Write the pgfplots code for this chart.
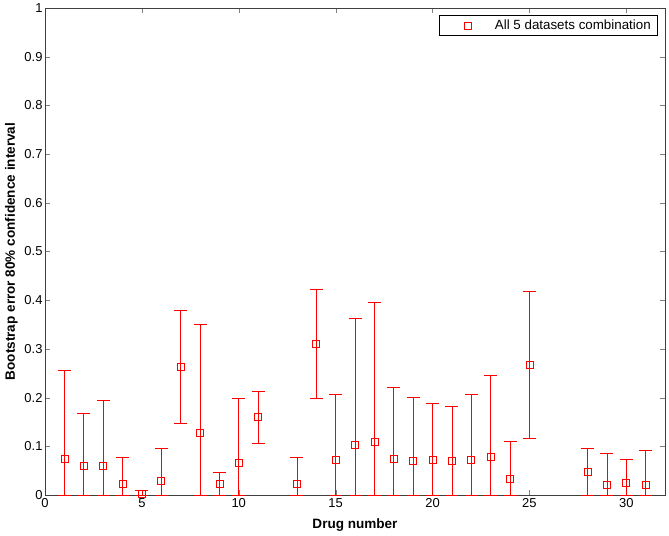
\documentclass[border=0pt]{standalone}
\usepackage{pgfplots}
\pgfplotsset{compat=1.18}
\usepackage{pgfplotstable}
\usepackage{fontspec}
\setmainfont{Liberation Sans}
\pgfplotstableread{
x y ep em
1 0.075 0.181 0.075
2 0.060 0.108 0.060
3 0.060 0.135 0.060
4 0.022 0.055 0.022
5 0.002 0.008 0.002
6 0.030 0.066 0.030
7 0.263 0.117 0.116
8 0.128 0.222 0.128
9 0.023 0.024 0.023
10 0.066 0.132 0.066
11 0.160 0.052 0.053
13 0.024 0.053 0.024
14 0.310 0.112 0.112
15 0.073 0.134 0.073
16 0.103 0.260 0.103
17 0.110 0.286 0.110
18 0.074 0.148 0.074
19 0.071 0.129 0.071
20 0.073 0.116 0.073
21 0.071 0.112 0.071
22 0.073 0.134 0.073
23 0.079 0.166 0.079
24 0.033 0.077 0.033
25 0.267 0.152 0.151
28 0.048 0.047 0.048
29 0.020 0.065 0.020
30 0.025 0.049 0.025
31 0.020 0.071 0.020
}\datatable
\begin{document}
\begin{tikzpicture}
\begin{axis}[
  scale only axis,
  width=620bp, height=487bp,
  xmin=0, xmax=32, ymin=0, ymax=1,
  xtick={0,5,...,30},
  ytick={0,0.1,...,1},
  yticklabels={0,0.1,0.2,0.3,0.4,0.5,0.6,0.7,0.8,0.9,1},
  tick align=inside,
  tick pos=both,
  major tick length=5bp,
  /pgf/number format/assume math mode=true,
  tick label style={font=\fontsize{13}{15}\selectfont},
  yticklabel style={xshift=1bp},
  xlabel={\bfseries Drug number},
  ylabel={\bfseries Bootstrap error 80\% confidence interval},
  label style={font=\fontsize{13.6}{15}\selectfont},
  xlabel style={yshift=-4bp},
  ylabel style={yshift=0bp},
  axis line style={black!75, line width=0.5pt},
  legend style={at={(0.9887,0.9856)}, anchor=north east, draw=black, line width=0.5pt,
    font=\fontsize{13.4}{15}\selectfont, inner xsep=5bp, inner ysep=2.5bp},
  legend cell align=left,
  legend image code/.code={\path[draw=none, fill=none] (0bp,0bp) -- (49bp,0bp);
    \path[#1, draw=none] plot[mark=square, mark size=3.5bp, mark options={draw=red, line width=0.6pt}] coordinates {(24bp,0bp)};},
]
\addplot[only marks, mark=square, mark size=3.5bp, color=red, line width=0.6pt,
  error bars/.cd, y dir=both, y explicit,
  error bar style={line width=0.7pt, red},
  error mark options={rotate=90, red, mark size=6.5bp, line width=0.7pt}]
  table[x=x, y=y, y error plus=ep, y error minus=em] {\datatable};
\addlegendentry{All 5 datasets combination}
\end{axis}
\path (-45bp,-41bp) rectangle (624bp,495bp);
\end{tikzpicture}
\end{document}
